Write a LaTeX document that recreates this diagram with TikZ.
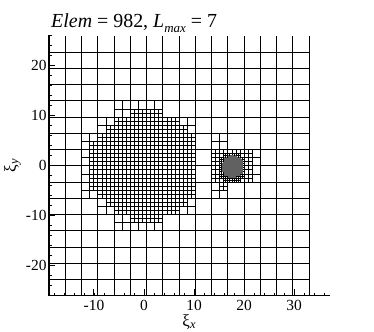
\documentclass[tikz,border=0pt]{standalone}
\usepackage{fontspec}
\setmainfont{Liberation Serif}
\tikzset{
  meshline/.style={line width=0.6bp, black},
  meshfine/.style={line width=0.3bp, black!62},
  axisline/.style={line width=1.1bp, black, line cap=rect},
  majortick/.style={line width=1.0bp, black},
  minortick/.style={line width=0.6bp, black},
  ticklab/.style={inner sep=0pt, font=\fontsize{15.5}{15.5}\selectfont},
  axlab/.style={inner sep=0pt, font=\fontsize{17}{17}\selectfont},
}
\def\cBx{17.6}
\def\cBy{-0.2}
\def\Rfour{1.9}
\newcommand\mcCell[4]{%
  \begingroup
  \pgfmathsetmacro\mcXa{#1}%
  \pgfmathsetmacro\mcYa{#2}%
  \pgfmathsetmacro\mcH{#3}%
  \pgfmathsetmacro\mcXb{\mcXa+\mcH}%
  \pgfmathsetmacro\mcYb{\mcYa+\mcH}%
  \pgfmathsetmacro\mcDx{max(0,\mcXa,(-1)*(\mcXb))}%
  \pgfmathsetmacro\mcDy{max(0,\mcYa,(-1)*(\mcYb))}%
  \pgfmathsetmacro\mcDA{sqrt(\mcDx*\mcDx+\mcDy*\mcDy)}%
  \pgfmathsetmacro\mcEx{max(0,\mcXa-\cBx,\cBx-(\mcXb))}%
  \pgfmathsetmacro\mcEy{max(0,\mcYa-(\cBy),\cBy-(\mcYb))}%
  \pgfmathsetmacro\mcDB{sqrt(\mcEx*\mcEx+\mcEy*\mcEy)}%
  \pgfmathsetmacro\mcS{(#4==0)*((\mcDA<10.2)+(abs(\mcXa-13.5)<0.01)*(\mcYa>-6.6)*(\mcYa<3.3)+(\mcXa>16.7)*(\mcXa<20.1)*(\mcYa>-3.3)*(\mcYa<0.1))+(#4==1)*((\mcDA<10.0)+(\mcDB<3.3))+(#4==2)*(\mcDB<2.4)+(#4==3)*(\mcDB<\Rfour)}%
  \ifnum#4>3 \def\mcSty{meshfine}\else\def\mcSty{meshline}\fi
  \ifdim\mcS pt>0.5pt
    \pgfmathsetmacro\mcHn{\mcH/2}%
    \pgfmathsetmacro\mcXm{\mcXa+\mcHn}%
    \pgfmathsetmacro\mcYm{\mcYa+\mcHn}%
    \pgfmathtruncatemacro\mcL{#4+1}%
    \edef\mcNext{\noexpand\mcCell{\mcXa}{\mcYa}{\mcHn}{\mcL}\noexpand\mcCell{\mcXm}{\mcYa}{\mcHn}{\mcL}\noexpand\mcCell{\mcXa}{\mcYm}{\mcHn}{\mcL}\noexpand\mcCell{\mcXm}{\mcYm}{\mcHn}{\mcL}}%
  \else
    \edef\mcNext{\noexpand\draw[\mcSty] (\mcXa,\mcYb) -- (\mcXb,\mcYb) -- (\mcXb,\mcYa);}%
  \fi
  \expandafter\endgroup\mcNext}
\begin{document}
\begin{tikzpicture}[x=5bp,y=5bp]
\useasboundingbox (-28.8,-33.26) rectangle (46,33.14);
% mesh
\begin{scope}
  \clip (-19.5,-26.5) rectangle (33.5,25.92);
  \foreach \i in {0,...,15}{%
    \foreach \j in {0,...,15}{%
      \mcCell{-19+3.25*\i}{-26+3.25*\j}{3.25}{0}%
    }%
  }
\end{scope}
% axes
\coordinate (ytop) at (-19,26);
\coordinate (orig) at (-19,-26);
\coordinate (xend) at (37,-26);
\draw[axisline] (ytop) -- (orig) -- (xend);
\foreach \v in {-18,-16,...,36} \draw[minortick] (\v,-26) -- ++(0,0.6);
\foreach \v in {-24,-22,...,26} \draw[minortick] (-19,\v) -- ++(0.6,0);
\foreach \v in {-10,0,10,20,30} \draw[majortick] (\v,-26) -- ++(0,1.25);
\foreach \v in {-20,-10,0,10,20} \draw[majortick] (-19,\v) -- ++(1.25,0);
% tick labels
\foreach \v in {-10,0,10,20,30} \node[ticklab, anchor=north] (xt\v) at (\v,-26.8) {\v};
\foreach \v in {-20,-10,0,10,20} \node[ticklab, anchor=east] (yt\v) at (-19.45,\v) {\v};
% axis labels
\node[axlab, anchor=base] (xlab) at (9,-32.2) {ξ\raisebox{-2.2bp}{\fontsize{12.5}{12.5}\selectfont\itshape x}};
\node[axlab, anchor=base, rotate=90] (ylab) at (-25.6,0) {ξ\raisebox{-2.2bp}{\fontsize{12.5}{12.5}\selectfont\itshape y}};
% title
\node[inner sep=0pt, anchor=base west, font=\fontsize{20}{20}\selectfont] (title) at (-18.6,27.7) {\textit{Elem} = 982, \textit{L}\raisebox{-5.5bp}{\fontsize{13}{13}\selectfont\itshape max} = 7};
\end{tikzpicture}
\end{document}
